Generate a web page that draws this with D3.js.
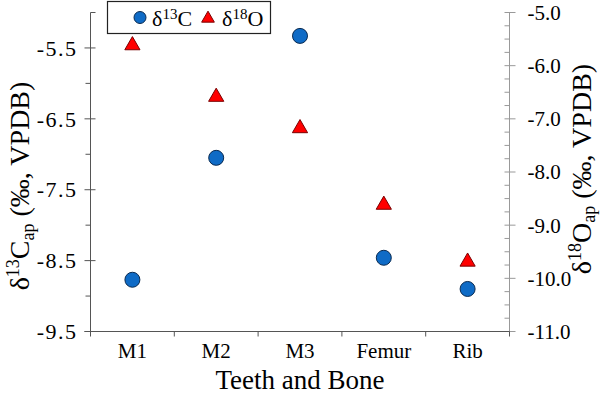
<!DOCTYPE html>
<html>
<head>
<meta charset="utf-8">
<script src="https://cdn.jsdelivr.net/npm/d3@7"></script>
<style>
  body { margin: 0; background: #fff; }
  text { font-family: "Liberation Serif", "Times New Roman", serif; fill: #000; }
</style>
</head>
<body>
<div id="chart"></div>
<script>
// data
var categories = ["M1", "M2", "M3", "Femur", "Rib"];
var carbon = [-8.77, -7.05, -5.33, -8.46, -8.90];   // d13C, left axis
var oxygen = [-5.59, -6.56, -7.15, -8.59, -9.66];   // d18O, right axis
var leftTicks = [-9.5, -8.5, -7.5, -6.5, -5.5];
var rightTicks = [-11.0, -10.0, -9.0, -8.0, -7.0, -6.0, -5.0];

var W = 600, H = 394;
var plotL = 90.5, plotR = 509.5, plotT = 12.5, plotB = 331.5;

var svg = d3.select("#chart").append("svg")
    .attr("width", W)
    .attr("height", H);

var x = d3.scaleBand()
    .domain(categories)
    .range([plotL, plotR]);

var yL = d3.scaleLinear()
    .domain([-9.5, -5.0])
    .range([plotB, plotT]);

var yR = d3.scaleLinear()
    .domain([-11.0, -5.0])
    .range([plotB, plotT]);

// left axis
var gL = svg.append("g").attr("transform", "translate(" + plotL + ",0)");
gL.append("line").attr("y1", plotT).attr("y2", plotB).attr("stroke", "#555");
// minor ticks between labels
gL.selectAll(".minor").data([-9.0, -8.0, -7.0, -6.0])
  .enter().append("line")
    .attr("x1", -5).attr("x2", 0)
    .attr("y1", function(d) { return yL(d); })
    .attr("y2", function(d) { return yL(d); })
    .attr("stroke", "#555");
gL.append("line")
    .attr("x1", 0).attr("x2", 5)
    .attr("y1", yL(-5.0)).attr("y2", yL(-5.0))
    .attr("stroke", "#555");
gL.selectAll(".major").data(leftTicks)
  .enter().append("line")
    .attr("x1", -6).attr("x2", 5)
    .attr("y1", function(d) { return yL(d); })
    .attr("y2", function(d) { return yL(d); })
    .attr("stroke", "#555");
gL.selectAll(".lab").data(leftTicks)
  .enter().append("text")
    .attr("x", -13)
    .attr("y", function(d) { return yL(d); })
    .attr("dy", "0.35em")
    .attr("text-anchor", "end")
    .style("font-size", "22px")
    .style("letter-spacing", "1.5px")
    .text(function(d) { return d.toFixed(1); });

// right axis
var gR = svg.append("g").attr("transform", "translate(" + plotR + ",0)");
gR.append("line").attr("y1", plotT).attr("y2", plotB).attr("stroke", "#999");
gR.selectAll(".minor").data(d3.range(0, 25).map(function(i) { return -11.0 + i * 0.25; }))
  .enter().append("line")
    .attr("x1", -5)
    .attr("x2", function(d) { return Math.abs(d - Math.round(d)) < 0.01 ? 6 : 0; })
    .attr("y1", function(d) { return yR(d); })
    .attr("y2", function(d) { return yR(d); })
    .attr("stroke", "#999");
gR.selectAll(".lab").data(rightTicks)
  .enter().append("text")
    .attr("x", 18)
    .attr("y", function(d) { return yR(d); })
    .attr("dy", "0.35em")
    .style("font-size", "21px")
    .text(function(d) { return d.toFixed(1); });

// x axis
var gX = svg.append("g").attr("transform", "translate(0," + plotB + ")");
gX.append("line").attr("x1", plotL - 6).attr("x2", plotR).attr("stroke", "#555");
var bounds = categories.map(function(c) { return x(c); }).concat([plotR]);
gX.selectAll(".tick").data(bounds)
  .enter().append("line")
    .attr("x1", function(d) { return d; })
    .attr("x2", function(d) { return d; })
    .attr("y1", 0).attr("y2", 5)
    .attr("stroke", "#555");
gX.selectAll(".lab").data(categories)
  .enter().append("text")
    .attr("x", function(d) { return x(d) + x.bandwidth() / 2; })
    .attr("y", 26)
    .attr("text-anchor", "middle")
    .style("font-size", "21px")
    .text(function(d) { return d; });

svg.append("text")
    .attr("x", (plotL + plotR) / 2)
    .attr("y", 389)
    .attr("text-anchor", "middle")
    .style("font-size", "27px")
    .text("Teeth and Bone");

// axis titles
var tl = svg.append("text")
    .attr("transform", "translate(29,186) rotate(-90)")
    .attr("text-anchor", "middle")
    .style("font-size", "28px");
tl.append("tspan").text("δ");
tl.append("tspan").attr("dy", -10).style("font-size", "18px").text("13");
tl.append("tspan").attr("dy", 10).text("C");
tl.append("tspan").attr("dy", 5).style("font-size", "18px").text("ap");
tl.append("tspan").attr("dy", -5).text(" (‰, VPDB)");

var tr = svg.append("text")
    .attr("transform", "translate(591,169) rotate(-90)")
    .attr("text-anchor", "middle")
    .style("font-size", "28px");
tr.append("tspan").text("δ");
tr.append("tspan").attr("dy", -10).style("font-size", "18px").text("18");
tr.append("tspan").attr("dy", 10).text("O");
tr.append("tspan").attr("dy", 4).style("font-size", "18px").text("ap");
tr.append("tspan").attr("dy", -4).text(" (‰, VPDB)");

// points
var tri = d3.symbol().type(d3.symbolTriangle).size(100);

svg.append("g").selectAll("circle")
    .data(categories)
  .enter().append("circle")
    .attr("cx", function(d) { return x(d) + x.bandwidth() / 2; })
    .attr("cy", function(d, i) { return yL(carbon[i]); })
    .attr("r", 7.5)
    .attr("fill", "#0f6bc6")
    .attr("stroke", "#0a2a50")
    .attr("stroke-width", 1);

svg.append("g").selectAll("path")
    .data(categories)
  .enter().append("path")
    .attr("d", tri)
    .attr("transform", function(d, i) {
        return "translate(" + (x(d) + x.bandwidth() / 2) + "," + (yR(oxygen[i]) + 1.5) + ")";
    })
    .attr("fill", "#ff0000")
    .attr("stroke", "#7a0000")
    .attr("stroke-width", 1);

// legend
var lg = svg.append("g");
lg.append("rect")
    .attr("x", 107.5).attr("y", 1.5)
    .attr("width", 163).attr("height", 32)
    .attr("fill", "#fff")
    .attr("stroke", "#222")
    .attr("stroke-width", 1.2);
lg.append("circle")
    .attr("cx", 140).attr("cy", 17.5).attr("r", 6)
    .attr("fill", "#0f6bc6").attr("stroke", "#0a2a50");
lg.append("path")
    .attr("d", d3.symbol().type(d3.symbolTriangle).size(70))
    .attr("transform", "translate(208,18.5)")
    .attr("fill", "#ff0000").attr("stroke", "#7a0000");
var t1 = lg.append("text").attr("x", 152).attr("y", 26).style("font-size", "22px");
t1.append("tspan").text("δ");
t1.append("tspan").attr("dy", -7).style("font-size", "15px").text("13");
t1.append("tspan").attr("dy", 7).text("C");
var t2 = lg.append("text").attr("x", 222).attr("y", 26).style("font-size", "22px");
t2.append("tspan").text("δ");
t2.append("tspan").attr("dy", -7).style("font-size", "15px").text("18");
t2.append("tspan").attr("dy", 7).text("O");
</script>
</body>
</html>
